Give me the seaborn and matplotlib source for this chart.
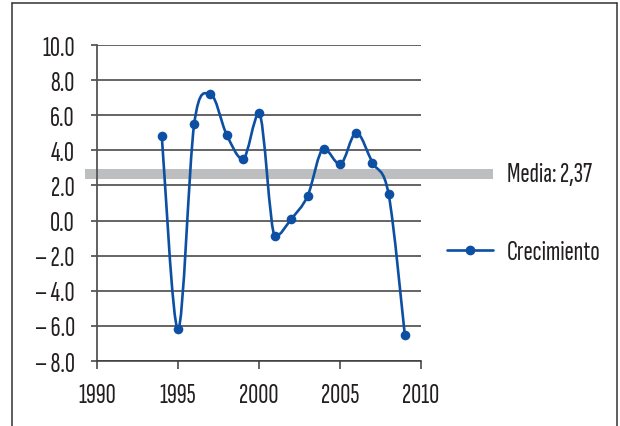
import numpy as np
import pandas as pd
import matplotlib
matplotlib.use("Agg")
import matplotlib.pyplot as plt
import seaborn as sns
from matplotlib.path import Path
from matplotlib.patches import PathPatch
from matplotlib.lines import Line2D

# ---- data ----
years = [1994, 1995, 1996, 1997, 1998, 1999, 2000, 2001, 2002, 2003,
         2004, 2005, 2006, 2007, 2008, 2009]
growth = [4.8, -6.2, 5.5, 7.2, 4.9, 3.5, 6.1, -0.9, 0.1, 1.4,
          4.1, 3.2, 5.0, 3.3, 1.5, -6.5]
media = 2.37
media_label = "Media: 2,37"
series_label = "Crecimiento"
yticks = [10, 8, 6, 4, 2, 0, -2, -4, -6, -8]
ytick_labels = ["10.0", "8.0", "6.0", "4.0", "2.0", "0.0",
                "\u2013 2.0", "\u2013 4.0", "\u2013 6.0", "\u2013 8.0"]
xticks = [1990, 1995, 2000, 2005, 2010]

df = pd.DataFrame({"year": years, "growth": growth})

BLUE = "#0C4FA3"
GRAY_BAND = "#BDBEC0"
GRID = "#3a3a3a"
TEXT = "#231F20"
FS = 20

sns.set_theme(style="white")
plt.rcParams["font.family"] = ["Sofia Sans Extra Condensed", "DejaVu Sans"]

fig = plt.figure(figsize=(6.2, 4.27), dpi=100)
ax = fig.add_axes([97 / 620, 1 - 362 / 427, (421 - 97) / 620, (362 - 46) / 427])

ax.set_xlim(1990, 2010)
ax.set_ylim(-8, 10)

# grid lines
for t in yticks:
    ax.axhline(t, color=GRID, lw=1.1, zorder=1)

# mean band (bottom edge at the mean value)
ax.fill_between([1989.25, 2014.45], [media, media], [media + 0.57, media + 0.57],
                color=GRAY_BAND, lw=0, clip_on=False, zorder=2)

# smoothed line (bezier through the data points, flat at local extrema)
x = np.array(df["year"], dtype=float)
y = np.array(df["growth"], dtype=float)
n = len(x)
tang = np.zeros((n, 2))
for i in range(n):
    a = max(i - 1, 0)
    b = min(i + 1, n - 1)
    tang[i] = [(x[b] - x[a]) / 6.0, (y[b] - y[a]) / 6.0]
    if 0 < i < n - 1 and (y[i] - y[a]) * (y[b] - y[i]) < 0:
        tang[i, 1] = 0.0
verts = [(x[0], y[0])]
codes = [Path.MOVETO]
for i in range(n - 1):
    p1 = np.array([x[i], y[i]])
    p2 = np.array([x[i + 1], y[i + 1]])
    verts += [tuple(p1 + tang[i]), tuple(p2 - tang[i + 1]), tuple(p2)]
    codes += [Path.CURVE4] * 3
ax.add_patch(PathPatch(Path(verts, codes), facecolor="none", edgecolor=BLUE,
                       lw=1.9, zorder=3, capstyle="round", joinstyle="round"))

sns.scatterplot(data=df, x="year", y="growth", ax=ax, color=BLUE, s=48,
                edgecolor=BLUE, linewidth=0, zorder=4, legend=False)

# axes styling
for side in ["top", "right"]:
    ax.spines[side].set_visible(False)
ax.spines["left"].set_color("#555555")
ax.spines["left"].set_linewidth(1.3)
ax.spines["bottom"].set_color(GRID)
ax.spines["bottom"].set_linewidth(1.1)

ax.set_yticks(yticks)
ax.set_yticklabels(ytick_labels)
ax.set_xticks(xticks)
ax.set_xticklabels([str(v) for v in xticks])
ax.tick_params(axis="y", direction="out", length=4.5, width=1.1, color=GRID,
               pad=11.5, labelsize=FS, labelcolor=TEXT, left=True)
ax.tick_params(axis="x", direction="out", length=6, width=1.1, color=GRID,
               pad=10, labelsize=FS, labelcolor=TEXT, bottom=True)
ax.set_xlabel("")
ax.set_ylabel("")

# mean label
fig.text(507 / 620, 1 - 175 / 427, media_label, fontsize=FS, color=TEXT,
         va="center", ha="left")

# legend for the series
handle = Line2D([], [], color=BLUE, lw=1.9, marker="o", markersize=7,
                markerfacecolor=BLUE, markeredgewidth=0)
fig.legend([handle], [series_label], loc="center left",
           bbox_to_anchor=(447 / 620, 1 - 253 / 427), frameon=False,
           fontsize=FS, handlelength=46 / (FS * 100 / 72), handletextpad=14 / (FS * 100 / 72),
           borderpad=0, borderaxespad=0, labelcolor=TEXT)

# outer frame (top, left, right)
frame_col = "#333333"
fig.add_artist(Line2D([12 / 620, 12 / 620], [0, 1 - 4 / 427], color=frame_col,
                      lw=1.1, transform=fig.transFigure))
fig.add_artist(Line2D([12 / 620, 617 / 620], [1 - 4 / 427, 1 - 4 / 427],
                      color=frame_col, lw=1.1, transform=fig.transFigure))
fig.add_artist(Line2D([617 / 620, 617 / 620], [0, 1 - 4 / 427], color=frame_col,
                      lw=1.1, transform=fig.transFigure))

fig.savefig("out.png", dpi=100)
